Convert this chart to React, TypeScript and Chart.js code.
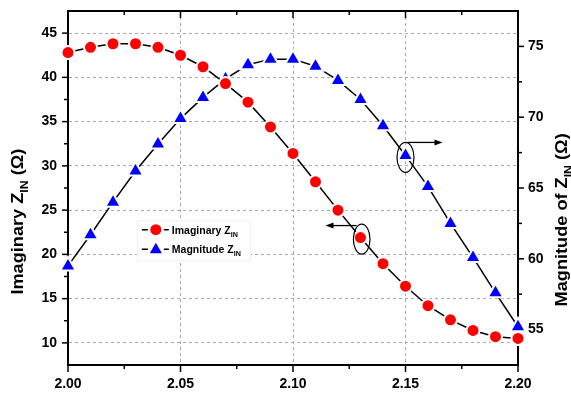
import React, { useEffect, useRef } from "react";
import { Chart, registerables } from "chart.js";

Chart.register(...registerables);

// ---- data ----
const xValues = [2.0, 2.01, 2.02, 2.03, 2.04, 2.05, 2.06, 2.07, 2.08, 2.09, 2.1, 2.11, 2.12, 2.13, 2.14, 2.15, 2.16, 2.17, 2.18, 2.19, 2.2];
const imaginaryZin = [42.8, 43.4, 43.8, 43.8, 43.4, 42.5, 41.2, 39.3, 37.2, 34.4, 31.4, 28.2, 25.0, 21.9, 18.95, 16.4, 14.2, 12.6, 11.4, 10.7, 10.5];
const magnitudeZin = [59.5, 61.7, 64.0, 66.2, 68.1, 69.9, 71.4, 72.7, 73.7, 74.1, 74.1, 73.6, 72.6, 71.25, 69.4, 67.3, 65.1, 62.5, 60.1, 57.6, 55.2];
const xTicks = [2.0, 2.05, 2.1, 2.15, 2.2];
const leftTicks = [10, 15, 20, 25, 30, 35, 40, 45];
const rightTicks = [55, 60, 65, 70, 75];
const xRange = [2.0, 2.2];
const leftRange = [7.5, 47.5];
const rightRange = [52.5, 77.5];
const leftTitle = [{ t: "Imaginary Z" }, { t: "IN", sub: true }, { t: " (Ω)" }];
const rightTitle = [{ t: "Magnitude of Z" }, { t: "IN", sub: true }, { t: " (Ω)" }];
const legendImag = [{ t: "Imaginary Z" }, { t: "IN", sub: true }];
const legendMag = [{ t: "Magnitude Z" }, { t: "IN", sub: true }];
const imagAnnotIndex = 13;
const magAnnotIndex = 15;

const FONT = "'Liberation Sans', Arial, sans-serif";
const RED = "#ff0000";
const BLUE = "#0000ff";

function minors(ticks: number[], lo: number, hi: number) {
  const step = ticks[1] - ticks[0];
  const out: number[] = [];
  for (let v = ticks[0] - step / 2; v <= hi + 1e-9; v += step) {
    if (v >= lo - 1e-9) out.push(v);
  }
  return out;
}

type Part = { t: string; sub?: boolean };

function richWidth(ctx: CanvasRenderingContext2D, parts: Part[], size: number) {
  let w = 0;
  for (const p of parts) {
    ctx.font = `bold ${p.sub ? size * 0.68 : size}px ${FONT}`;
    w += ctx.measureText(p.t).width;
  }
  return w;
}

function drawRich(ctx: CanvasRenderingContext2D, parts: Part[], x: number, y: number, size: number) {
  let cx = x;
  ctx.textBaseline = "alphabetic";
  ctx.textAlign = "left";
  for (const p of parts) {
    const s = p.sub ? size * 0.68 : size;
    ctx.font = `bold ${s}px ${FONT}`;
    ctx.fillText(p.t, cx, p.sub ? y + size * 0.28 : y);
    cx += ctx.measureText(p.t).width;
  }
}

function drawTriangle(ctx: CanvasRenderingContext2D, x: number, y: number, r: number) {
  ctx.beginPath();
  for (let k = 0; k < 3; k++) {
    const a = (k * 2 * Math.PI) / 3;
    const px = x + Math.sin(a) * r;
    const py = y - Math.cos(a) * r;
    if (k === 0) ctx.moveTo(px, py);
    else ctx.lineTo(px, py);
  }
  ctx.closePath();
}

function arrow(ctx: CanvasRenderingContext2D, x1: number, y: number, x2: number) {
  const dir = Math.sign(x2 - x1);
  ctx.strokeStyle = "#000";
  ctx.lineWidth = 1.3;
  ctx.beginPath();
  ctx.moveTo(x1, y);
  ctx.lineTo(x2 - dir * 6, y);
  ctx.stroke();
  ctx.fillStyle = "#000";
  ctx.beginPath();
  ctx.moveTo(x2, y);
  ctx.lineTo(x2 - dir * 8, y - 3);
  ctx.lineTo(x2 - dir * 8, y + 3);
  ctx.closePath();
  ctx.fill();
}

const decorPlugin = {
  id: "decor",
  beforeDatasetsDraw(chart: any) {
    const { ctx, chartArea } = chart;
    const { left, right, top, bottom } = chartArea;
    const xs = chart.scales.x;
    const ys = chart.scales.y;
    const y1 = chart.scales.y1;
    ctx.save();
    ctx.strokeStyle = "#000";
    ctx.lineWidth = 2;
    ctx.beginPath();
    ctx.moveTo(left - 1, top);
    ctx.lineTo(right + 1, top);
    ctx.stroke();
    ctx.lineWidth = 1.5;
    const seg = (ax: number, ay: number, bx: number, by: number) => {
      ctx.beginPath();
      ctx.moveTo(ax, ay);
      ctx.lineTo(bx, by);
      ctx.stroke();
    };
    for (const v of xTicks) {
      const px = xs.getPixelForValue(v);
      seg(px, bottom, px, bottom + 7);
      seg(px, top, px, top + 7);
    }
    for (const v of minors(xTicks, xRange[0], xRange[1])) {
      const px = xs.getPixelForValue(v);
      seg(px, bottom, px, bottom + 4);
      seg(px, top, px, top + 4);
    }
    for (const v of leftTicks) {
      const py = ys.getPixelForValue(v);
      seg(left - 6, py, left, py);
    }
    for (const v of minors(leftTicks, leftRange[0] + 0.1, leftRange[1] - 0.1)) {
      const py = ys.getPixelForValue(v);
      seg(left - 4, py, left, py);
    }
    for (const v of rightTicks) {
      const py = y1.getPixelForValue(v);
      seg(right, py, right + 6, py);
    }
    for (const v of minors(rightTicks, rightRange[0] + 0.1, rightRange[1] - 0.1)) {
      const py = y1.getPixelForValue(v);
      seg(right, py, right + 4, py);
    }
    ctx.restore();
  },
  afterDatasetsDraw(chart: any) {
    const { ctx, chartArea } = chart;
    const { left, right, top, bottom } = chartArea;
    const W = right - left;
    const H = bottom - top;
    const xs = chart.scales.x;
    const ys = chart.scales.y;
    const y1 = chart.scales.y1;
    ctx.save();

    // annotations
    ctx.strokeStyle = "#000";
    ctx.lineWidth = 1.2;
    const mx = xs.getPixelForValue(xValues[magAnnotIndex]);
    const my = y1.getPixelForValue(magnitudeZin[magAnnotIndex]);
    ctx.beginPath();
    ctx.ellipse(mx, my + 2, 8.5, 15, 0, 0, Math.PI * 2);
    ctx.stroke();
    arrow(ctx, mx + 2, my - 13, mx + 37);

    const ix = xs.getPixelForValue(xValues[imagAnnotIndex]);
    const iy = ys.getPixelForValue(imaginaryZin[imagAnnotIndex]);
    ctx.strokeStyle = "#000";
    ctx.lineWidth = 1.2;
    ctx.beginPath();
    ctx.ellipse(ix + 1.2, iy + 1.6, 8.3, 15, 0, 0, Math.PI * 2);
    ctx.stroke();
    arrow(ctx, ix - 4, iy - 12, ix - 35);

    // legend
    const lx = left + W * 0.153;
    const ly = top + H * 0.591;
    const lw = 114;
    const lh = 41;
    ctx.fillStyle = "#fff";
    ctx.fillRect(lx, ly, lw, lh);
    ctx.strokeStyle = "#f0f0f0";
    ctx.lineWidth = 1;
    ctx.strokeRect(lx + 0.5, ly + 0.5, lw - 1, lh - 1);
    const rows = [
      { parts: legendImag, shape: "circle", color: RED, dy: 9.5 },
      { parts: legendMag, shape: "triangle", color: BLUE, dy: 29 },
    ];
    for (const r of rows) {
      const cy = ly + r.dy;
      const cx = lx + 19;
      ctx.strokeStyle = "#000";
      ctx.lineWidth = 1.5;
      ctx.beginPath();
      ctx.moveTo(lx + 5, cy);
      ctx.lineTo(cx - 8, cy);
      ctx.moveTo(cx + 8, cy);
      ctx.lineTo(lx + 32, cy);
      ctx.stroke();
      ctx.fillStyle = r.color;
      if (r.shape === "circle") {
        ctx.beginPath();
        ctx.arc(cx, cy, 5.5, 0, Math.PI * 2);
        ctx.fill();
      } else {
        drawTriangle(ctx, cx, cy + 0.5, 7);
        ctx.fill();
      }
      ctx.fillStyle = "#000";
      drawRich(ctx, r.parts, lx + 35, cy + 4, 10.5);
    }

    // axis titles
    const tsize = 16.5;
    const sx = 1.1;
    ctx.fillStyle = "#000";
    const lwid = richWidth(ctx, leftTitle, tsize) * sx;
    ctx.save();
    ctx.translate(23, top + H * 0.595);
    ctx.rotate(-Math.PI / 2);
    ctx.scale(sx, 1);
    drawRich(ctx, leftTitle, -lwid / 2 / sx, 0, tsize);
    ctx.restore();

    const rwid = richWidth(ctx, rightTitle, tsize) * sx;
    ctx.save();
    ctx.translate(567, top + H * 0.59);
    ctx.rotate(-Math.PI / 2);
    ctx.scale(sx, 1);
    drawRich(ctx, rightTitle, -rwid / 2 / sx, 0, tsize);
    ctx.restore();

    ctx.restore();
  },
};

export default function App() {
  const ref = useRef<HTMLCanvasElement | null>(null);
  useEffect(() => {
    if (!ref.current) return;
    const tickFont = { family: FONT, size: 14, weight: "bold" as const };
    const gridDash = { color: "#a8a8a8", lineWidth: 1, drawTicks: false };
    const borderDashed = { display: true, color: "#000", width: 2, dash: [3, 3] };
    const chart = new Chart(ref.current, {
      type: "line",
      data: {
        datasets: [
          {
            label: "Imaginary ZIN",
            data: xValues.map((x, i) => ({ x, y: imaginaryZin[i] })),
            yAxisID: "y",
            borderColor: "#000",
            borderWidth: 1.5,
            pointStyle: "circle",
            pointRadius: 6.5,
            pointBackgroundColor: RED,
            pointBorderColor: "#fff",
            pointBorderWidth: 2,
            clip: false as any,
          },
          {
            label: "Magnitude ZIN",
            data: xValues.map((x, i) => ({ x, y: magnitudeZin[i] })),
            yAxisID: "y1",
            borderColor: "#000",
            borderWidth: 1.5,
            pointStyle: "triangle",
            pointRadius: 9,
            pointBackgroundColor: BLUE,
            pointBorderColor: "#fff",
            pointBorderWidth: 2,
            clip: false as any,
          },
        ],
      },
      options: {
        responsive: false,
        animation: false,
        layout: { padding: { top: 8, left: 0, right: 0, bottom: 0 } },
        plugins: { legend: { display: false }, tooltip: { enabled: false } },
        elements: { line: { tension: 0 } },
        scales: {
          x: {
            type: "linear",
            min: xRange[0],
            max: xRange[1],
            afterBuildTicks: (s: any) => {
              s.ticks = xTicks.map((v) => ({ value: v }));
            },
            afterFit: (s: any) => {
              s.height = 31;
              s.paddingLeft = 0;
              s.paddingRight = 0;
            },
            ticks: {
              font: tickFont,
              color: "#000",
              padding: 11,
              maxRotation: 0,
              callback: (v: any) => Number(v).toFixed(2),
            },
            grid: gridDash,
            border: borderDashed,
          },
          y: {
            type: "linear",
            position: "left",
            min: leftRange[0],
            max: leftRange[1],
            afterBuildTicks: (s: any) => {
              s.ticks = leftTicks.map((v) => ({ value: v }));
            },
            afterFit: (s: any) => {
              s.width = 68;
              s.paddingTop = 0;
              s.paddingBottom = 0;
            },
            ticks: { font: tickFont, color: "#000", padding: 11 },
            grid: gridDash,
            border: borderDashed,
          },
          y1: {
            type: "linear",
            position: "right",
            min: rightRange[0],
            max: rightRange[1],
            afterBuildTicks: (s: any) => {
              s.ticks = rightTicks.map((v) => ({ value: v }));
            },
            afterFit: (s: any) => {
              s.width = 53;
              s.paddingTop = 0;
              s.paddingBottom = 0;
            },
            ticks: { font: tickFont, color: "#000", padding: 10 },
            grid: { drawOnChartArea: false, drawTicks: false },
            border: { display: true, color: "#000", width: 2 },
          },
        },
      },
      plugins: [decorPlugin],
    } as any);
    return () => chart.destroy();
  }, []);
  return (
    <div style={{ position: "fixed", left: 0, top: 0, width: 571, height: 396, background: "#fff" }}>
      <canvas ref={ref} width={571} height={396} style={{ display: "block" }} />
    </div>
  );
}
